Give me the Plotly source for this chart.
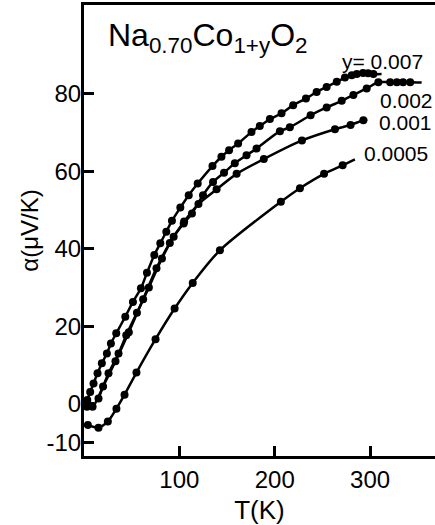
import plotly.graph_objects as go

# ---- data ----
T_007 = [3.5, 6.5, 10, 14.2, 18.7, 24, 28.2, 33.8, 43.3, 51.3, 59.7, 66, 73.7, 80, 86.3, 92.2,
         101, 109.8, 119.2, 134.7, 144.1, 152.1, 161.6, 175.6, 184.3, 194.9, 207.1, 219.3,
         232.7, 243.9, 254.4, 265, 273.6, 280.7, 286, 292.5, 297.8, 303.4]
a_007 = [1.0, 3.1, 5.3, 7.9, 10.5, 13.0, 15.6, 18.2, 22.5, 26.3, 29.8, 33.8, 38.4, 41.4, 44.4, 47.2,
         50.6, 53.8, 56.8, 61.3, 63.7, 65.4, 67.1, 70.1, 71.6, 73.4, 74.9, 77.0,
         78.7, 80.4, 81.7, 83.0, 84.1, 84.7, 85.0, 85.3, 85.2, 85.0]
end_007 = (312, 85.0)

T_002 = [15.2, 25.7, 36.2, 44.3, 55.5, 68, 81.7, 94, 104.5, 113.2, 124.8, 135.3, 146.8, 158.1,
         170.4, 180.9, 205.4, 215.8, 237.6, 254.4, 270.2, 282.4, 296.4, 308.6, 321, 328, 334.5, 342]
a_002 = [1.4, 7.9, 13.0, 17.7, 23.5, 30.0, 37.5, 43.1, 46.5, 49.1, 53.8, 57.2, 59.6, 62.0,
         64.1, 65.8, 70.3, 71.3, 74.4, 76.4, 78.1, 79.6, 81.3, 82.9, 82.9, 82.9, 82.9, 82.9]
end_002 = (354, 82.8)

T_001 = [3, 9, 20, 33, 47, 62, 76, 90, 105, 120, 139, 160, 188.5, 228.5, 263.1, 279.5, 292.9]
a_001 = [-0.7, -0.7, 4.5, 11.0, 18.5, 27.0, 35.0, 41.5, 47.0, 51.5, 55.3, 59.3, 63.1, 67.9,
         70.8, 71.9, 73.1]
end_001 = (297, 73.3)

T_0005 = [4, 15.2, 25, 34, 42.5, 55, 75, 95, 114, 142.5, 206.4, 226.4, 251.7, 271.2]
a_0005 = [-5.4, -6.1, -4.5, -1.2, 2.4, 8.1, 16.7, 24.6, 31.2, 39.6, 52.1, 55.6, 59.3, 61.5]
end_0005 = (284, 63.0)

series_labels = ["y= 0.007", "0.002", "0.001", "0.0005"]
label_T = [268, 308, 307, 291]
label_a = [88.2, 78.3, 72.6, 64.6]

x_ticks = [100, 200, 300]
x_ticktext = ["100", "200", "300"]
y_ticks = [80, 60, 40, 20, 0, -10]
y_ticktext = ["80", "60", "40", "20", "0", "-10"]

FONT = "Liberation Sans, Arial, sans-serif"

fig = go.Figure()
for T, a, end in [(T_007, a_007, end_007), (T_002, a_002, end_002),
                  (T_001, a_001, end_001), (T_0005, a_0005, end_0005)]:
    fig.add_trace(go.Scatter(x=T + [end[0]], y=a + [end[1]], mode="lines",
                             line=dict(color="black", width=2.5, shape="spline", smoothing=0.8),
                             showlegend=False, hoverinfo="skip"))
    fig.add_trace(go.Scatter(x=T, y=a, mode="markers",
                             marker=dict(color="black", size=8),
                             showlegend=False))

for txt, tx, ty in zip(series_labels, label_T, label_a):
    fig.add_annotation(x=tx, y=ty, text=txt, showarrow=False, xanchor="left", yanchor="middle",
                       font=dict(family=FONT, size=21, color="black"))

fig.add_annotation(xref="paper", yref="paper", x=0.064, y=0.928, xanchor="left", yanchor="middle",
                   text="Na<sub>0.70</sub>Co<sub>1+y</sub>O<sub>2</sub>", showarrow=False,
                   font=dict(family=FONT, size=32, color="black"))

fig.update_xaxes(range=[0, 368], tickvals=x_ticks, ticktext=x_ticktext, ticks="inside",
                 ticklen=10, tickwidth=2.5, ticklabelstandoff=0,
                 tickcolor="black", showline=True, linewidth=3, linecolor="black", mirror=True,
                 showgrid=False, zeroline=False,
                 tickfont=dict(family=FONT, size=24, color="black"),
                 title=dict(text="T(K)", font=dict(family=FONT, size=26, color="black"), standoff=10))
fig.update_yaxes(range=[-13.4, 102.8], tickvals=y_ticks, ticktext=y_ticktext, ticks="inside",
                 ticklen=10, tickwidth=2.5, ticklabelstandoff=-5,
                 tickcolor="black", showline=True, linewidth=3, linecolor="black", mirror=False,
                 showgrid=False, zeroline=False,
                 tickfont=dict(family=FONT, size=24, color="black"),
                 title=dict(text="α(μV/K)", font=dict(family=FONT, size=24, color="black"), standoff=2))

fig.update_layout(width=435, height=525, margin=dict(l=84, r=0, t=5, b=69),
                  plot_bgcolor="white", paper_bgcolor="white", showlegend=False)

fig.write_html("out.html", config={"displayModeBar": False},
               post_script="document.body.style.margin='0';")
